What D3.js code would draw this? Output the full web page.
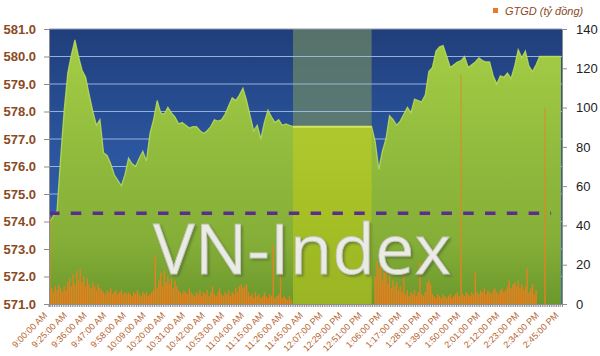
<!DOCTYPE html>
<html>
<head>
<meta charset="utf-8">
<script src="https://cdn.jsdelivr.net/npm/d3@7"></script>
<style>
  body { margin: 0; background: #fff; }
  svg { display: block; }
</style>
</head>
<body>
<div id="chart"></div>
<script>
// VN-Index, read every 2nd category of the session
var indexStep = 2;
var vnIndex = [
  574.0, 574.2, 574.4, 576.3, 578.05, 579.4, 580.05, 580.6, 580.0, 579.5,
  579.25, 578.6, 578.0, 577.5, 577.7, 576.5, 576.4, 576.1, 575.7, 575.5,
  575.3, 575.7, 576.3, 576.1, 576.0, 576.3, 576.55, 576.2, 577.2, 577.7,
  578.4, 577.95, 577.9, 578.15, 577.95, 577.8, 577.55, 577.6, 577.5, 577.4,
  577.45, 577.45, 577.3, 577.2, 577.3, 577.45, 577.7, 577.65, 577.7, 577.9,
  578.2, 578.5, 578.4, 578.6, 578.85, 578.4, 577.85, 577.3, 577.5, 577.0,
  577.6, 578.05, 577.8, 577.6, 577.7, 577.5, 577.55, 577.5,
  // lunch break
  577.45, 577.45, 577.45, 577.45, 577.45, 577.45, 577.45, 577.45, 577.45, 577.45,
  577.45, 577.45, 577.45, 577.45, 577.45, 577.45, 577.45, 577.45, 577.45, 577.45,
  577.45, 577.45, 577.45,
  // afternoon
  576.9, 575.9, 576.55, 577.0, 577.85, 577.7, 577.5, 577.65, 577.9, 578.15,
  577.95, 578.45, 578.4, 578.35, 578.6, 579.45, 579.6, 580.2, 580.35, 580.4,
  580.0, 579.6, 579.7, 579.8, 579.85, 580.0, 579.6, 579.7, 579.8, 579.95,
  579.85, 579.8, 579.8, 579.3, 579.0, 579.3, 579.25, 579.4, 579.2, 579.65,
  580.25, 579.95, 580.2, 579.65, 579.45, 579.7,
  // ATC
  580.0, 580.0, 580.0, 580.0, 580.0, 580.0, 580.0
];

// GTGD (ty dong), one value per category
var gtgd = [
  45, 8, 6, 9, 7, 10, 8, 6, 9, 7, 11,
  13, 9, 15, 10, 17, 12, 18, 11, 14, 9, 13,
  10, 8, 11, 9, 7, 10, 8, 7, 6, 5, 7,
  6, 8, 5, 6, 7, 5, 6, 7, 5, 6, 5,
  6, 5, 4, 6, 5, 7, 5, 4, 6, 5, 6,
  4, 5, 6, 7, 25, 8, 12, 16, 9, 17, 11,
  14, 10, 13, 8, 12, 9, 7, 6, 5, 7, 6,
  5, 8, 6, 5, 4, 6, 5, 7, 4, 6, 5,
  7, 4, 6, 9, 5, 4, 6, 8, 5, 4, 6,
  5, 7, 4, 6, 5, 8, 6, 9, 10, 8, 9,
  10, 6, 4, 5, 3, 6, 4, 5, 3, 4, 6,
  4, 3, 5, 4, 30, 3, 4, 5, 19, 3, 4,
  3, 2, 4, 2, 0, 0, 0, 0, 0, 0, 0,
  0, 0, 0, 0, 0, 0, 0, 0, 0, 0, 0,
  0, 0, 0, 0, 0, 0, 0, 0, 0, 0, 0,
  0, 0, 0, 0, 0, 0, 0, 0, 0, 0, 0,
  0, 0, 0, 0, 0, 0, 14, 22, 18, 25, 12,
  16, 20, 10, 15, 8, 12, 9, 11, 7, 9, 6,
  16, 5, 7, 4, 6, 5, 7, 4, 6, 21, 5,
  4, 6, 11, 12, 10, 5, 4, 3, 5, 4, 3,
  5, 4, 3, 4, 5, 3, 4, 5, 6, 4, 117,
  5, 4, 6, 5, 4, 6, 5, 16, 6, 5, 7,
  6, 8, 5, 7, 6, 5, 7, 8, 6, 5, 7,
  8, 6, 7, 9, 12, 8, 10, 11, 9, 12, 8,
  10, 7, 9, 18, 6, 8, 10, 5, 7, 0, 0,
  0, 0, 100, 0, 0, 0, 0, 0, 0, 0, 0,
  0
];

var tickLabels = [
  "9:00:00 AM", "9:25:00 AM", "9:36:00 AM", "9:47:00 AM", "9:58:00 AM",
  "10:09:00 AM", "10:20:00 AM", "10:31:00 AM", "10:42:00 AM", "10:53:00 AM",
  "11:04:00 AM", "11:15:00 AM", "11:26:00 AM", "11:45:00 AM", "12:07:00 PM",
  "12:29:00 PM", "12:51:00 PM", "1:06:00 PM", "1:17:00 PM", "1:28:00 PM",
  "1:39:00 PM", "1:50:00 PM", "2:01:00 PM", "2:12:00 PM", "2:23:00 PM",
  "2:34:00 PM", "2:45:00 PM"
];
var tickEvery = 11;

var refLevel = 574.3;          // tham chieu
var lunchRange = [136, 180];   // category indices of the break
var leftTicks = [571, 572, 573, 574, 575, 576, 577, 578, 579, 580, 581];
var rightTicks = [0, 20, 40, 60, 80, 100, 120, 140];

var W = 600, H = 356;
var margin = { top: 29, right: 38, bottom: 52, left: 49 };
var width = W - margin.left - margin.right;
var height = H - margin.top - margin.bottom;

var svg = d3.select('#chart').append('svg')
    .attr('width', W)
    .attr('height', H);

var defs = svg.append('defs');

var bg = defs.append('linearGradient').attr('id', 'bgGrad')
    .attr('x1', 0).attr('y1', 0).attr('x2', 0).attr('y2', 1);
bg.append('stop').attr('offset', '0%').attr('stop-color', '#203e7b');
bg.append('stop').attr('offset', '45%').attr('stop-color', '#2b569f');
bg.append('stop').attr('offset', '100%').attr('stop-color', '#3566b5');

var ag = defs.append('linearGradient').attr('id', 'areaGrad')
    .attr('gradientUnits', 'userSpaceOnUse')
    .attr('x1', 0).attr('y1', 0).attr('x2', 0).attr('y2', height);
ag.append('stop').attr('offset', '0%').attr('stop-color', '#a6cf46');
ag.append('stop').attr('offset', '40%').attr('stop-color', '#93bd3e');
ag.append('stop').attr('offset', '78%').attr('stop-color', '#84ae37');
ag.append('stop').attr('offset', '100%').attr('stop-color', '#6b982d');

var lg = defs.append('linearGradient').attr('id', 'lunchGrad')
    .attr('gradientUnits', 'userSpaceOnUse')
    .attr('x1', 0).attr('y1', 0).attr('x2', 0).attr('y2', height);
lg.append('stop').attr('offset', '0%').attr('stop-color', '#b9d03a');
lg.append('stop').attr('offset', '60%').attr('stop-color', '#a8c226');
lg.append('stop').attr('offset', '100%').attr('stop-color', '#9ab424');

var bgr = defs.append('linearGradient').attr('id', 'barGrad')
    .attr('gradientUnits', 'userSpaceOnUse')
    .attr('x1', 0).attr('y1', height).attr('x2', 0).attr('y2', 0);
bgr.append('stop').attr('offset', '0%').attr('stop-color', '#f57b1c').attr('stop-opacity', 1);
bgr.append('stop').attr('offset', '25%').attr('stop-color', '#e9821f').attr('stop-opacity', 0.9);
bgr.append('stop').attr('offset', '100%').attr('stop-color', '#d0902c').attr('stop-opacity', 0.6);

// soft shadow for the watermark
var sh = defs.append('filter').attr('id', 'wmShadow')
    .attr('x', '-5%').attr('y', '-10%').attr('width', '115%').attr('height', '130%');
sh.append('feDropShadow')
    .attr('dx', 2).attr('dy', 2).attr('stdDeviation', 0.8)
    .attr('flood-color', '#4f6a2a').attr('flood-opacity', 0.6);

var g = svg.append('g')
    .attr('transform', 'translate(' + margin.left + ',' + margin.top + ')');

var x = d3.scaleBand()
    .domain(d3.range(gtgd.length))
    .range([0, width])
    .padding(0);
var bw = x.bandwidth();
function cx(i) { return x(i) + bw / 2; }

var yL = d3.scaleLinear().domain([571, 581]).range([height, 0]);
var yR = d3.scaleLinear().domain([0, 140]).range([height, 0]);

// plot background
g.append('rect')
    .attr('width', width)
    .attr('height', height)
    .attr('fill', 'url(#bgGrad)');

// lunch break band
g.append('rect')
    .attr('x', cx(lunchRange[0]))
    .attr('y', 0)
    .attr('width', cx(lunchRange[1]) - cx(lunchRange[0]))
    .attr('height', height)
    .attr('fill', '#7b955f')
    .attr('opacity', 0.6);

// gridlines
g.selectAll('.grid')
    .data(leftTicks.slice(1, -1))
    .enter().append('line')
    .attr('class', 'grid')
    .attr('x1', 0).attr('x2', width)
    .attr('y1', function(d) { return yL(d); })
    .attr('y2', function(d) { return yL(d); })
    .style('stroke', '#a9c3e8')
    .style('stroke-width', 1)
    .style('opacity', 0.85);

var pts = vnIndex.map(function(v, k) { return { i: k * indexStep, v: v }; });

var area = d3.area()
    .x(function(d) { return cx(d.i); })
    .y0(height)
    .y1(function(d) { return yL(d.v); });
var line = d3.line()
    .x(function(d) { return cx(d.i); })
    .y(function(d) { return yL(d.v); });

g.append('path')
    .datum(pts)
    .attr('d', area)
    .style('fill', 'url(#areaGrad)');

// highlight along the ridge
g.append('path')
    .datum(pts)
    .attr('d', line)
    .style('fill', 'none')
    .style('stroke', '#c2e05a')
    .style('stroke-width', 1.3)
    .style('opacity', 0.8);

// lunch block
var lunchPts = pts.filter(function(d) { return d.i >= lunchRange[0] && d.i <= lunchRange[1]; });
g.append('path')
    .datum(lunchPts)
    .attr('d', area)
    .style('fill', 'url(#lunchGrad)');
g.append('path')
    .datum(lunchPts)
    .attr('d', line)
    .style('fill', 'none')
    .style('stroke', '#d4e45c')
    .style('stroke-width', 2);

// GTGD bars
g.selectAll('.bar')
    .data(gtgd)
    .enter().append('rect')
    .attr('class', 'bar')
    .attr('x', function(d, i) { return cx(i) - 0.65; })
    .attr('width', 1.3)
    .attr('y', function(d) { return yR(d); })
    .attr('height', function(d) { return yR(0) - yR(d); })
    .style('fill', 'url(#barGrad)');

// reference level
g.append('line')
    .attr('x1', 0).attr('x2', cx(gtgd.length - 1) - 10)
    .attr('y1', yL(refLevel)).attr('y2', yL(refLevel))
    .style('stroke', '#5a2f8c')
    .style('stroke-width', 3.3)
    .style('stroke-dasharray', '10.5,11.3');

// watermark
svg.append('text')
    .attr('x', 153).attr('y', 274)
    .attr('textLength', 298).attr('lengthAdjust', 'spacingAndGlyphs')
    .attr('filter', 'url(#wmShadow)')
    .style('font-family', '"Open Sans", "DejaVu Sans", sans-serif')
    .style('font-size', '70px')
    .style('fill', '#ebebe5')
    .style('stroke', '#c4c4bc')
    .style('stroke-width', 0.8)
    .text('VN-Index');

// axes
var leftAxis = g.append('g')
    .call(d3.axisLeft(yL).tickValues(leftTicks).tickFormat(d3.format('.1f')).tickSize(5).tickPadding(8));
leftAxis.selectAll('text')
    .style('font-family', '"Liberation Sans", Arial, sans-serif')
    .style('font-size', '13px')
    .style('font-weight', 'bold')
    .style('fill', '#8a4a1e');

var rightAxis = g.append('g')
    .attr('transform', 'translate(' + width + ',0)')
    .call(d3.axisRight(yR).tickValues(rightTicks).tickSize(5).tickPadding(9));
rightAxis.selectAll('text')
    .style('font-family', '"Liberation Sans", Arial, sans-serif')
    .style('font-size', '13px')
    .style('fill', '#222');

var bottomAxis = g.append('g')
    .attr('transform', 'translate(0,' + height + ')')
    .call(d3.axisBottom(x).tickSize(3).tickFormat(''));
bottomAxis.selectAll('.tick line').attr('transform', 'translate(' + (-bw / 2) + ',0)');

[leftAxis, rightAxis, bottomAxis].forEach(function(a) {
    a.select('.domain').style('stroke', '#8c8c8c');
    a.selectAll('.tick line').style('stroke', '#8c8c8c');
});

g.append('line')
    .attr('x1', 0).attr('x2', width)
    .attr('y1', 0).attr('y2', 0)
    .style('stroke', '#8e9bb0');

// time labels
g.selectAll('.tlabel')
    .data(tickLabels)
    .enter().append('text')
    .attr('class', 'tlabel')
    .attr('transform', function(d, k) {
        return 'translate(' + (cx(k * tickEvery) - 2) + ',' + (height + 12) + ') rotate(-45)';
    })
    .attr('text-anchor', 'end')
    .style('font-family', '"Liberation Sans", Arial, sans-serif')
    .style('font-size', '9px')
    .style('fill', '#b5622e')
    .text(function(d) { return d; });

// legend
svg.append('rect')
    .attr('x', 493).attr('y', 8)
    .attr('width', 5).attr('height', 5)
    .style('fill', '#e8782a');
svg.append('text')
    .attr('x', 505).attr('y', 14.5)
    .style('font-family', '"Liberation Sans", Arial, sans-serif')
    .style('font-size', '11px')
    .style('font-style', 'italic')
    .style('fill', '#8a4a1e')
    .text('GTGD (tỷ đồng)');
</script>
</body>
</html>
